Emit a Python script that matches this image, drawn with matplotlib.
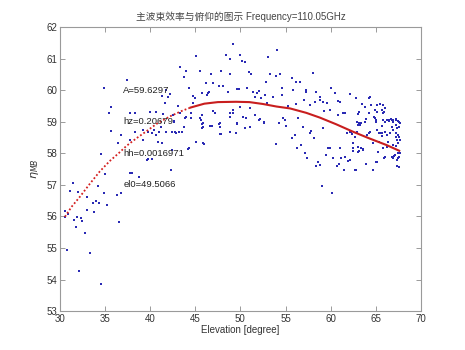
import matplotlib
matplotlib.use("Agg")
import matplotlib.pyplot as plt

plt.rcParams['font.family'] = ['Liberation Sans', 'Noto Sans CJK SC', 'DejaVu Sans']

# Measured main-beam efficiency vs elevation
elevation = [
    30.55, 30.6, 30.9, 30.8, 31.1, 31.4, 31.55, 31.8, 31.9, 32.0, 32.1, 32.3, 32.4, 32.8,
    33.0, 33.0, 33.3, 33.7, 33.8, 34.0, 34.2, 34.35, 34.5, 34.6, 34.84, 34.9, 35.0, 35.2,
    35.4, 35.7, 35.7, 36.3, 36.4, 36.5, 36.8, 37.4, 37.8, 38.0, 38.3, 38.3, 38.8, 39.2, 39.7,
    37.8, 40.0, 40.6, 41.3, 42.0, 41.6, 36.8, 37.8, 39.2, 39.8, 40.4, 41.0, 41.8, 42.4, 40.9,
    39.8, 40.2, 42.3, 42.6, 41.2, 41.3, 40.2, 40.6, 41.7, 41.4,
    43.3, 43.8, 44.0, 45.1, 45.5, 46.2, 46.7, 47.0, 47.6, 47.8, 48.1, 48.4, 48.6, 48.8, 48.8,
    49.2, 49.6, 44.3, 44.8, 45.7, 46.4, 46.25, 46.5, 44.7, 43.1, 44.8, 45.0, 42.5, 43.3, 43.9,
    44.0, 44.5, 44.5, 45.5, 45.7, 45.6, 45.9, 45.7, 46.7, 47.0, 47.2, 47.7, 47.7, 48.8, 48.8,
    49.2, 43.2, 44.2, 45.9, 42.8, 42.2,
    43.7, 45.7, 46.6, 47.7, 49.6, 50.5, 51.05, 42.6, 42.85, 43.5, 43.7, 45.1, 46.0, 44.3, 45.9,
    46.8, 47.65, 47.9, 49.5, 49.6, 52.1, 52.6, 54.3, 55.0, 42.4,
    49.9, 50.2, 50.5, 53.1, 54.1, 51.0, 51.2, 53.3, 53.9, 54.4, 55.7, 58.0, 56.2, 56.6, 52.8,
    49.8, 50.75, 51.35, 51.8, 52.1, 51.6, 52.3, 52.7, 53.6, 54.6, 54.6, 55.8, 57.3, 57.3, 58.4,
    60.0, 60.5, 62.1, 62.8, 64.3, 57.1, 58.8, 58.8, 58.25, 59.2, 59.55, 60.85, 61.0, 57.7, 56.2,
    55.3, 49.2, 49.9, 51.1, 53.0, 48.8, 50.6, 50.3, 51.6, 52.2, 52.6, 54.7, 54.9, 56.4, 59.3,
    59.9, 60.85, 61.4, 61.6, 63.0, 63.2, 64.9, 65.1, 65.75, 65.9, 63.9, 64.8, 65.0, 66.0, 66.5,
    66.7, 66.9, 67.3, 67.5, 67.6, 62.9, 63.3, 61.8, 62.3, 62.4, 64.2, 64.4, 65.1, 65.5, 65.75,
    59.2, 58.2, 56.9, 57.8, 57.7, 56.0, 55.7, 53.9, 56.7, 56.3, 57.15, 57.4, 58.4, 58.6, 58.8,
    59.7, 59.9, 59.5, 60.3, 61.0, 60.7, 60.9, 61.2, 61.6, 61.95, 62.1, 61.5, 62.8, 62.5, 63.0,
    63.2, 63.6, 63.9, 65.0, 64.7, 65.3, 65.9, 66.2, 66.4, 66.75, 67.05, 67.5, 67.5, 67.4, 59.0,
    60.1,
    64.35, 63.5, 63.8, 64.5, 65.1, 65.5, 65.8, 66.0, 65.7, 65.8, 64.2, 64.9, 65.0, 65.8, 65.65,
    66.2, 66.5, 66.75, 66.9, 67.3, 67.5, 67.7, 67.6, 67.2, 67.4, 66.75, 66.9, 67.3, 67.5, 67.2,
    67.6, 67.7, 67.4, 66.6, 66.3, 66.0, 65.65, 65.4, 64.0, 63.05, 63.2, 63.4, 63.8, 62.9, 62.7,
    62.1, 64.7, 65.4, 62.5, 63.05, 63.4, 63.6, 62.5, 66.9, 67.3, 67.5, 65.8, 67.7, 67.6, 67.4,
    67.6, 66.75, 67.1, 66.9, 66.0, 65.1, 63.9, 64.7, 62.7,
]
efficiency = [
    56.18, 55.97, 56.07, 54.93, 56.80, 57.05, 55.88, 55.67, 55.99, 56.77, 54.28, 55.94, 55.85, 55.47,
    56.20, 56.62, 54.85, 56.42, 56.15, 56.49, 56.96, 56.41, 53.87, 57.97, 60.08, 56.73, 57.33, 56.37,
    59.27, 58.70, 59.47, 56.68, 58.31, 55.81, 56.73, 60.32, 57.38, 57.36, 58.68, 59.27, 57.24, 58.42, 57.79,
    59.28, 59.32, 59.32, 59.81, 59.79, 59.58, 58.58, 58.42, 58.74, 58.68, 58.74, 58.68, 58.68, 58.68, 58.37,
    57.81, 57.81, 57.47, 59.00, 58.84, 58.31, 58.63, 58.58, 60.00, 59.23,
    60.74, 60.43, 60.59, 61.08, 60.59, 60.22, 60.51, 60.22, 60.13, 60.61, 60.13, 61.11, 59.95, 60.51, 60.98,
    61.45, 60.03, 60.06, 59.81, 59.90, 59.90, 59.85, 59.95, 59.60, 59.50, 59.58, 59.74, 59.21, 59.27, 59.11,
    59.16, 59.27, 59.11, 59.11, 59.21, 59.05, 58.95, 58.79, 58.86, 59.34, 59.27, 58.95, 58.61, 58.68, 59.16,
    59.27, 58.68, 58.15, 58.31, 58.68, 59.87,
    58.82, 58.92, 58.86, 58.84, 58.95, 58.81, 58.84, 59.02, 58.65, 58.68, 58.84, 58.37, 58.29, 58.16, 58.82,
    58.87, 58.93, 58.60, 58.65, 58.93, 59.05, 58.97, 58.97, 58.86, 58.10,
    61.11, 60.93, 60.90, 61.04, 61.27, 60.58, 60.50, 60.50, 60.45, 60.50, 60.39, 60.53, 60.25, 60.25, 60.27,
    60.03, 60.06, 59.95, 59.90, 59.98, 59.79, 59.74, 59.85, 59.77, 60.06, 59.85, 60.00, 60.00, 59.93, 59.93,
    60.06, 59.90, 59.87, 59.76, 59.76, 59.69, 59.78, 59.69, 59.61, 59.61, 59.60, 59.66, 59.61, 59.53, 59.56,
    59.50, 59.37, 59.46, 59.44, 59.58, 59.27, 59.13, 59.16, 59.21, 59.08, 58.98, 59.11, 59.05, 59.11, 59.34,
    59.37, 59.21, 59.27, 59.27, 59.23, 59.32, 59.37, 59.30, 59.37, 59.32, 59.08, 59.14, 59.05, 59.00, 59.05,
    59.08, 59.05, 59.08, 59.03, 59.00, 59.00, 58.90, 58.63, 58.68, 58.61, 58.63, 58.68, 58.74, 58.63, 58.55,
    58.79, 58.47, 58.84, 58.71, 58.65, 58.58, 58.47, 58.29, 58.26, 58.16, 58.00, 57.86, 57.60, 57.71, 57.64,
    58.18, 58.18, 57.94, 57.84, 58.16, 57.60, 57.65, 57.86, 57.89, 57.75, 57.79, 57.47, 57.47, 58.16, 58.03,
    58.08, 58.13, 57.65, 57.71, 57.47, 58.05, 57.86, 58.21, 58.37, 57.89, 57.92, 58.00, 57.84, 57.60, 56.97,
    56.73,
    59.77, 59.56, 59.47, 59.53, 59.53, 59.56, 59.53, 59.42, 59.37, 59.27, 59.27, 59.11, 59.00, 59.05, 58.86,
    59.05, 59.03, 59.05, 59.00, 59.05, 59.03, 58.97, 58.84, 58.90, 58.79, 58.84, 58.74, 58.65, 58.58, 58.52,
    58.52, 58.42, 58.42, 58.63, 58.58, 58.68, 58.63, 58.63, 58.58, 58.90, 58.95, 58.97, 59.00, 58.68, 58.52,
    58.68, 58.31, 58.37, 58.31, 58.21, 58.16, 58.11, 58.08, 58.26, 58.23, 58.31, 58.16, 58.00, 57.89, 57.79,
    57.57, 57.89, 57.94, 57.84, 57.89, 57.73, 57.66, 57.47, 57.47,
]

# Fitted efficiency model
fit_elevation = [30.55, 31.3, 32.2, 33.3, 34.4, 35.5, 36.5, 37.4, 38.5, 39.6, 40.7, 42.2, 43.5, 44.5,
                 46.0, 47.5, 49.5, 51.0, 52.5, 54.0, 55.5, 57.3, 58.8, 60.6, 62.5, 64.3, 66.2, 67.6]
fit_efficiency = [55.99, 56.31, 56.62, 57.03, 57.42, 57.75, 58.00, 58.24, 58.48, 58.70, 58.93, 59.17, 59.34, 59.45,
                  59.57, 59.62, 59.63, 59.62, 59.56, 59.48, 59.42, 59.28, 59.13, 58.92, 58.68, 58.47, 58.26, 58.08]

fit_labels = ["A=59.6297", "hz=0.20679", "hh=0.0016971", "el0=49.5066"]
fit_label_y = [60.0, 59.0, 58.0, 57.0]

title = "主波束效率与俯仰的图示 Frequency=110.05GHz"
x_ticks = [30, 35, 40, 45, 50, 55, 60, 65, 70]
y_ticks = [53, 54, 55, 56, 57, 58, 59, 60, 61, 62]

fig = plt.figure(figsize=(4.65, 3.5), dpi=100)
ax = fig.add_axes([0.129, 0.111, 0.776, 0.812])

ax.scatter(elevation, efficiency, s=1.6, color='#2a2ab4', marker='s', linewidths=0, zorder=2)

split = 13
ax.plot(fit_elevation[:split + 1], fit_efficiency[:split + 1], color='#d42020', lw=1.3,
        linestyle=(0, (1, 1.2)), zorder=3)
ax.plot(fit_elevation[split:], fit_efficiency[split:], color='#c81e1e', lw=1.5, zorder=3)

for lab, yv in zip(fit_labels, fit_label_y):
    ax.text(37.0, yv, lab, fontsize=6.8, color='#222222', ha='left', va='center', zorder=4)

ax.set_xlim(30, 70)
ax.set_ylim(53, 62)
ax.set_xticks(x_ticks)
ax.set_yticks(y_ticks)
ax.tick_params(direction='in', length=3.5, width=0.6, colors='#8a8a8a', labelcolor='#333333',
               labelsize=7, top=True, right=True, pad=2)
for sp in ax.spines.values():
    sp.set_color('#9a9a9a')
    sp.set_linewidth(0.8)

ax.set_title(title, fontsize=7, color='#444444', pad=5)
ax.set_xlabel("Elevation [degree]", fontsize=7, color='#333333', labelpad=1)
ax.set_ylabel(r"$\eta_{MB}$", fontsize=8, color='#333333', labelpad=4)

fig.savefig("out.png", dpi=100, facecolor='white')
